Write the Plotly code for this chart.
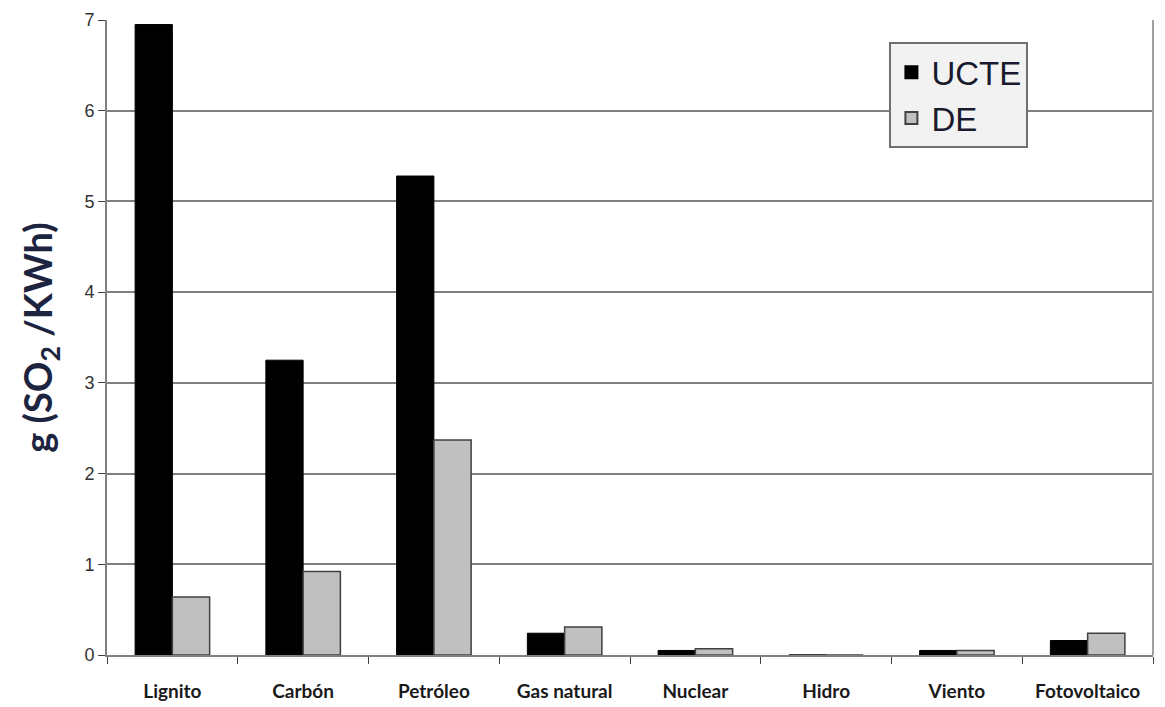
import plotly.graph_objects as go

# ── Data ──────────────────────────────────────────────────────────────────────
categories = ["Lignito", "Carbón", "Petróleo", "Gas natural", "Nuclear",
              "Hidro", "Viento", "Fotovoltaico"]
ucte = [6.95, 3.25, 5.28, 0.24, 0.05, 0.0, 0.05, 0.16]
de = [0.64, 0.92, 2.37, 0.31, 0.07, 0.0, 0.05, 0.24]

# ── Figure ────────────────────────────────────────────────────────────────────
fig = go.Figure()

fig.add_trace(go.Bar(
    x=categories, y=ucte, name="UCTE",
    marker=dict(color="#000000", line=dict(color="#000000", width=1)),
))
fig.add_trace(go.Bar(
    x=categories, y=de, name="DE",
    marker=dict(color="#c0c0c0", line=dict(color="#404040", width=1.5)),
))

# page body has an 8px margin, so the figure is sized to fit the window
fig.update_layout(
    width=1157,
    height=699,
    margin=dict(l=99, r=12, t=12, b=52, autoexpand=False),
    paper_bgcolor="white",
    plot_bgcolor="white",
    barmode="group",
    bargap=0.43,
    bargroupgap=0,
    showlegend=True,
    legend=dict(
        x=0.748, y=0.965, xanchor="left", yanchor="top",
        bgcolor="#f2f2f2", bordercolor="#707070", borderwidth=2,
        font=dict(family="Liberation Sans, Arial", size=33, color="#1a1a2e"),
        itemsizing="constant",
        itemwidth=30,
        tracegroupgap=2,
    ),
    xaxis=dict(
        automargin=False,
        tickson="boundaries",
        ticks="outside", ticklen=7, tickcolor="#404040",
        showline=True, linecolor="#808080", linewidth=2,
        tickfont=dict(family="Lato, Open Sans", size=19, color="#1a1a1a",
                      weight="bold"),
        ticklabelstandoff=18,
    ),
    yaxis=dict(
        automargin=False,
        range=[0, 7],
        dtick=1,
        ticks="outside", ticklen=7, tickcolor="#404040",
        showline=True, linecolor="#808080", linewidth=2,
        showgrid=True, gridcolor="#808080", gridwidth=1.5,
        zeroline=False,
        tickfont=dict(family="Liberation Sans, Arial", size=18, color="#333333"),
        title=dict(
            text="<b>g (SO<sub>2</sub> /KWh)</b>",
            font=dict(family="Lato, Open Sans", size=38, color="#1c2440"),
            standoff=20,
        ),
    ),
)

# Right border of plot area
fig.add_shape(type="line", xref="paper", yref="paper", x0=1, x1=1, y0=0, y1=1,
              line=dict(color="#a0a0a0", width=2))

fig.write_html("out.html")
